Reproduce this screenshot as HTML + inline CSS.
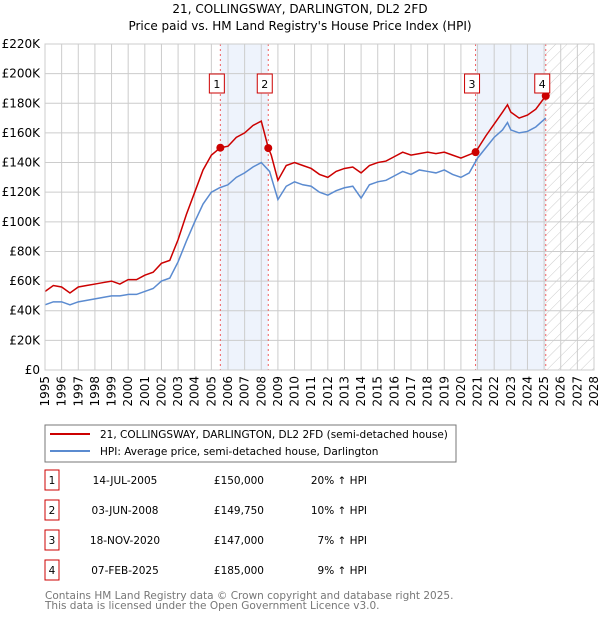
<!DOCTYPE html>
<html><head><meta charset="utf-8"><style>
body{margin:0;background:#fff;font-family:"Liberation Sans","DejaVu Sans",sans-serif;}
svg text{font-family:"DejaVu Sans","Liberation Sans",sans-serif;}
</style></head><body>
<svg id="c" width="600" height="620" xmlns="http://www.w3.org/2000/svg">
<defs><pattern id="hatch" width="8" height="8" patternUnits="userSpaceOnUse" patternTransform="rotate(45)"><line x1="0" y1="0" x2="0" y2="8" stroke="#ccc" stroke-width="1"/></pattern></defs>
<text x="300" y="13" text-anchor="middle" font-size="12">21, COLLINGSWAY, DARLINGTON, DL2 2FD</text>
<text x="300" y="30" text-anchor="middle" font-size="12">Price paid vs. HM Land Registry's House Price Index (HPI)</text>
<g id="plot"></g>
<g>
<rect x="45" y="425" width="411" height="37" fill="#fff" stroke="#777"/>
<line x1="50" y1="434" x2="90" y2="434" stroke="#cc0000" stroke-width="2"/>
<text x="100" y="438" font-size="10.5">21, COLLINGSWAY, DARLINGTON, DL2 2FD (semi-detached house)</text>
<line x1="50" y1="451" x2="90" y2="451" stroke="#5b8bd0" stroke-width="2"/>
<text x="100" y="455" font-size="10.5">HPI: Average price, semi-detached house, Darlington</text>
</g>
<g id="table" font-size="10.5"></g>
<text x="45" y="599" font-size="10.5" fill="#777">Contains HM Land Registry data © Crown copyright and database right 2025.</text>
<text x="45" y="609" font-size="10.5" fill="#777">This data is licensed under the Open Government Licence v3.0.</text>
</svg>
<script>
const hpiYears=[1995,1995.5,1996,1996.5,1997,1997.5,1998,1998.5,1999,1999.5,2000,2000.5,2001,2001.5,2002,2002.5,2003,2003.5,2004,2004.5,2005,2005.5,2006,2006.5,2007,2007.5,2008,2008.5,2009,2009.5,2010,2010.5,2011,2011.5,2012,2012.5,2013,2013.5,2014,2014.5,2015,2015.5,2016,2016.5,2017,2017.5,2018,2018.5,2019,2019.5,2020,2020.5,2021,2021.5,2022,2022.5,2022.8,2023,2023.5,2024,2024.5,2025.1];
const hpiValues=[44,46,46,44,46,47,48,49,50,50,51,51,53,55,60,62,73,87,100,112,120,123,125,130,133,137,140,134,115,124,127,125,124,120,118,121,123,124,116,125,127,128,131,134,132,135,134,133,135,132,130,133,143,150,157,162,167,162,160,161,164,170];
const priceYears=[1995,1995.5,1996,1996.5,1997,1997.5,1998,1998.5,1999,1999.5,2000,2000.5,2001,2001.5,2002,2002.5,2003,2003.5,2004,2004.5,2005,2005.54,2006,2006.5,2007,2007.5,2008,2008.42,2008.6,2009,2009.5,2010,2010.5,2011,2011.5,2012,2012.5,2013,2013.5,2014,2014.5,2015,2015.5,2016,2016.5,2017,2017.5,2018,2018.5,2019,2019.5,2020,2020.88,2021.5,2022,2022.5,2022.8,2023,2023.5,2024,2024.5,2025.1];
const priceValues=[53,57,56,52,56,57,58,59,60,58,61,61,64,66,72,74,88,105,120,135,145,150,151,157,160,165,168,150,145,128,138,140,138,136,132,130,134,136,137,133,138,140,141,144,147,145,146,147,146,147,145,143,147,158,166,174,179,174,170,172,176,185];
const saleLabels=["1","2","3","4"];
const saleYears=[2005.54,2008.42,2020.88,2025.1];
const salePrices=[150,149.75,147,185];
const saleDates=["14-JUL-2005","03-JUN-2008","18-NOV-2020","07-FEB-2025"];
const salePriceText=["£150,000","£149,750","£147,000","£185,000"];
const saleHpiText=["20% ↑ HPI","10% ↑ HPI","7% ↑ HPI","9% ↑ HPI"];
const yTicks=[0,20,40,60,80,100,120,140,160,180,200,220];
const yTickLabels=["£0","£20K","£40K","£60K","£80K","£100K","£120K","£140K","£160K","£180K","£200K","£220K"];
const xTicks=[1995,1996,1997,1998,1999,2000,2001,2002,2003,2004,2005,2006,2007,2008,2009,2010,2011,2012,2013,2014,2015,2016,2017,2018,2019,2020,2021,2022,2023,2024,2025,2026,2027,2028];

const X0=45,X1=594,Y0=370,Y1=44;
const xs=y=>X0+(y-1995)/(2028-1995)*(X1-X0);
const ys=v=>Y0-v/220*(Y0-Y1);
const NS="http://www.w3.org/2000/svg";
const plot=document.getElementById('plot');
function mk(tag,attrs,parent){const e=document.createElementNS(NS,tag);for(const k in attrs)e.setAttribute(k,attrs[k]);(parent||plot).appendChild(e);return e;}

let r=mk('rect',{x:xs(saleYears[0]),y:Y1,width:xs(saleYears[1])-xs(saleYears[0]),height:Y0-Y1,fill:'#eef3fc'});


r=mk('rect',{x:xs(saleYears[2]),y:Y1,width:xs(saleYears[3])-xs(saleYears[2]),height:Y0-Y1,fill:'#eef3fc'});


r=mk('rect',{x:xs(saleYears[3]),y:Y1,width:X1-xs(saleYears[3]),height:Y0-Y1,fill:'url(#hatch)'});



yTicks.forEach((v,i)=>{
 const l=mk('line',{x1:X0,x2:X1,y1:ys(v),y2:ys(v),stroke:'#ccc'});
 
 
 const t=mk('text',{x:X0-5,y:ys(v)+4,'text-anchor':'end','font-size':'12'});
 t.textContent=yTickLabels[i];
 
 
});
xTicks.forEach(y=>{
 const l=mk('line',{x1:xs(y),x2:xs(y),y1:Y1,y2:Y0,stroke:'#ccc'});
 
 
 const t=mk('text',{x:0,y:0,'text-anchor':'end','font-size':'12',transform:`translate(${xs(y)+4},${Y0+6}) rotate(-90)`});
 t.textContent=y;
 
 
});
saleYears.forEach((y,i)=>{
 const l=mk('line',{x1:xs(y),x2:xs(y),y1:Y1,y2:Y0,stroke:'#f06060','stroke-dasharray':'2,3'});
 
 
});
let p=mk('polyline',{points:hpiYears.map((y,i)=>xs(y)+','+ys(hpiValues[i])).join(' '),fill:'none',stroke:'#5b8bd0','stroke-width':'1.5'});


p=mk('polyline',{points:priceYears.map((y,i)=>xs(y)+','+ys(priceValues[i])).join(' '),fill:'none',stroke:'#cc0000','stroke-width':'1.5'});


saleYears.forEach((y,i)=>{
 const c=mk('circle',{cx:xs(y),cy:ys(salePrices[i]),r:4,fill:'#cc0000'});
 
 
 const b=mk('rect',{x:xs(y)-11,y:74,width:15,height:19,fill:'#fff',stroke:'#cc0000'});
 
 
 const t=mk('text',{x:xs(y)-3.5,y:88,'text-anchor':'middle','font-size':'11'});
 t.textContent=saleLabels[i];
 
 
});
const tb=document.getElementById('table');
saleLabels.forEach((s,i)=>{
 const yy=483+i*30;
 const b=mk('rect',{x:45,y:yy-13,width:14,height:20,fill:'#fff',stroke:'#cc0000'},tb);
 
 
 let t=mk('text',{x:52,y:yy+1,'text-anchor':'middle'},tb);t.textContent=s;
 
 
 t=mk('text',{x:125,y:yy+1,'text-anchor':'middle'},tb);t.textContent=saleDates[i];
 
 
 t=mk('text',{x:264,y:yy+1,'text-anchor':'end'},tb);t.textContent=salePriceText[i];
 
 
 t=mk('text',{x:367,y:yy+1,'text-anchor':'end'},tb);t.textContent=saleHpiText[i];
 
 
});
const border=mk('rect',{x:X0,y:Y1,width:X1-X0,height:Y0-Y1,fill:'none',stroke:'#ccc'});


</script>
</body></html>
